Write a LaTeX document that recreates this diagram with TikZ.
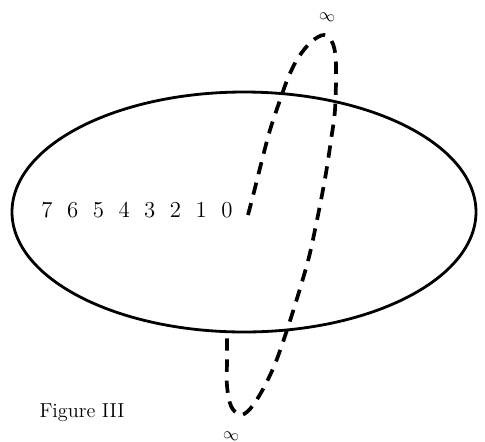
\documentclass[tikz,border=0pt]{standalone}
\usepackage{amsmath}
\usepackage{tikz}

\begin{document}
\begin{tikzpicture}[
    x=0.02cm, y=-0.02cm,
    rim/.style={line width=1.6pt},
    loopline/.style={line width=2.1pt, dash pattern=on 7pt off 5pt},
    digit/.style={font=\fontsize{13}{15}\selectfont, inner sep=0pt},
    inflbl/.style={font=\fontsize{9.5}{12}\selectfont, inner sep=0pt, rotate=-15},
    caption/.style={font=\fontsize{11.5}{14}\selectfont, inner sep=0pt},
  ]
  \useasboundingbox (0,0) rectangle (485,441);
  %% ---- Plane (big ellipse) ----
  \draw[rim] (244,212) ellipse [x radius=232, y radius=120];
  %% ---- Dashed loop through the plane ----
  \draw[loopline] plot[smooth, tension=0.55] coordinates {
    (248,215) (255,188) (262,160) (270,130) (279,103) (288,78) (298,58)
    (311,42) (324,35) (333,44) (336,65) (335,110) (331,140) (327,167)
    (322,195) (316,225) (309,257) (299,292) (287,330) (275,364)
    (262,391) (250,409) (240,415) (231,406) (227,386) (227,360) (227,334)};
  %% ---- Digits ----
  \foreach \d [count=\i] in {7,6,5,4,3,2,1,0}
    \node[digit] (d\d) at ({47+(\i-1)*25.7}, 210) {\d};
  %% ---- Infinity labels ----
  \node[inflbl] (inftop) at (327,17)  {$\infty$};
  \node[inflbl] (infbot) at (231,436) {$\infty$};
  %% ---- Caption ----
  \node[caption] (cap) at (82,413) {Figure III};
\end{tikzpicture}
\end{document}
